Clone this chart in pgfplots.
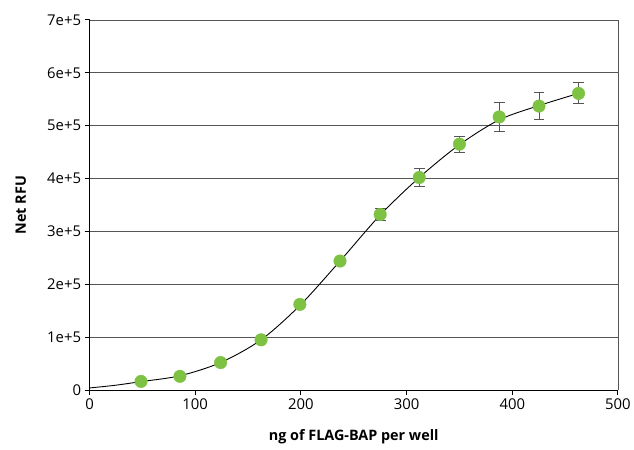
\documentclass[border=0pt]{standalone}
\usepackage{fontspec}
\setmainfont{Open Sans}
\usepackage{pgfplots}
\pgfplotsset{compat=1.18}
\definecolor{ptgreen}{RGB}{125,194,66}
\definecolor{gridgray}{RGB}{85,85,85}
\begin{document}
\begin{tikzpicture}
\begin{axis}[
  scale only axis, width=531bp, height=372bp,
  xmin=0, xmax=500, ymin=0, ymax=700000,
  xtick={0,100,200,300,400,500},
  ytick={0,100000,200000,300000,400000,500000,600000,700000},
  yticklabels={0,1e+5,2e+5,3e+5,4e+5,5e+5,6e+5,7e+5},
  scaled y ticks=false,
  /pgf/number format/assume math mode=true,
  axis x line*=bottom, axis y line*=left,
  axis line style={black, line width=1.1bp, -},
  tick align=outside, major tick length=5bp,
  tick style={black, line width=0.9bp},
  ymajorgrids, major grid style={gridgray, line width=0.8bp},
  tick label style={font=\fontsize{15}{17}\selectfont},
  label style={font=\bfseries\fontsize{14.5}{17}\selectfont},
  xlabel={ng of FLAG-BAP per well},
  ylabel={Net RFU},
  xlabel style={at={(axis description cs:0.5,-0.126)}, anchor=center},
  ylabel style={at={(axis description cs:-0.130,0.5)}, anchor=center},
  clip=false,
]
\draw[gridgray, line width=0.8bp] (axis cs:500,0) -- (axis cs:500,700000);
\addplot[black, line width=0.9bp, smooth, tension=0.5, no marks] coordinates {
 (0,4000) (24,9000) (48.7,16000) (85.5,27000) (124,52000) (162.3,95000)
 (199,160000) (237,244000) (275,331000) (312,402000) (350,464000)
 (387.6,511000) (425.3,538000) (462.7,561000)
};
\addplot[only marks, mark=*, mark size=6.3bp, mark options={fill=ptgreen, draw=ptgreen},
  error bars/.cd, y dir=both, y explicit,
  error bar style={gridgray, line width=1bp},
  error mark options={rotate=90, mark size=5.5bp, line width=1bp, gridgray}]
 table[x=x, y=y, y error=e] {
 x y e
 48.7 16400 0
 85.5 26000 0
 124 52000 0
 162.3 95000 0
 199 162000 0
 237 244000 0
 275 332000 12000
 312 402000 17000
 350 465000 15000
 387.6 516500 27000
 425.3 537000 25000
 462.7 561000 20000
};
\end{axis}
\path ([xshift=-90bp,yshift=-60bp]current axis.south west) rectangle ([xshift=13bp,yshift=20bp]current axis.north east);
\end{tikzpicture}
\end{document}
